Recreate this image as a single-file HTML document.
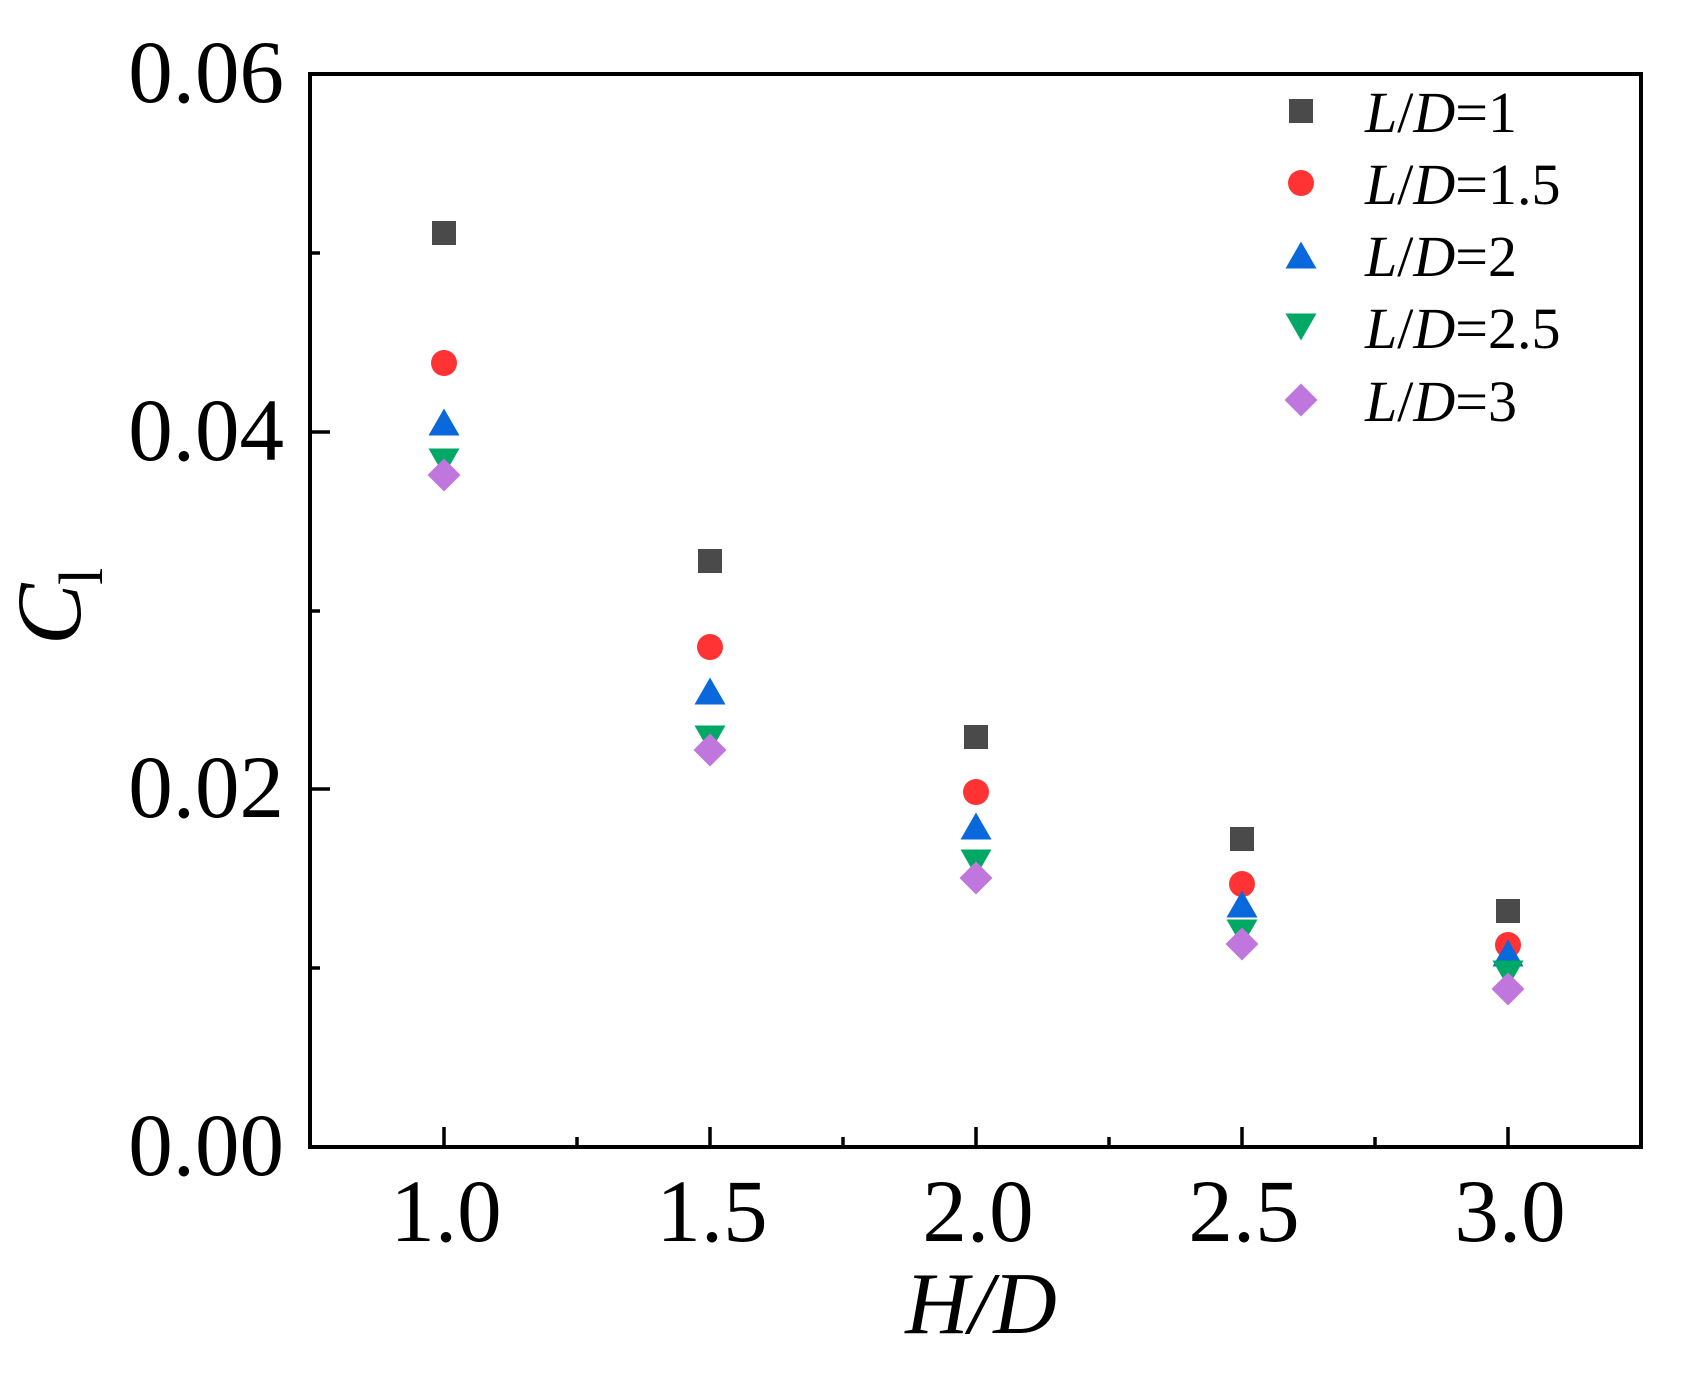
<!DOCTYPE html>
<html><head><meta charset="utf-8"><style>
html,body{margin:0;padding:0;background:#fff;}
svg{display:block;}
text{font-family:"Liberation Serif",serif;fill:#000;}
</style></head><body>
<svg width="1688" height="1373" viewBox="0 0 1688 1373" xmlns="http://www.w3.org/2000/svg">
<defs>
<g id="sq"><rect x="-12" y="-12" width="24" height="24" fill="#4a4a4a"/></g>
<g id="ci"><circle r="13" fill="#ff3333"/></g>
<g id="tu"><polygon points="0,-13.5 15.5,13.5 -15.5,13.5" fill="#0a68dd"/></g>
<g id="td"><polygon points="0,13.5 15.5,-13.5 -15.5,-13.5" fill="#00a865"/></g>
<g id="di"><polygon points="0,-16.5 16.5,0 0,16.5 -16.5,0" fill="#c077dd"/></g>
</defs>
<!-- frame -->
<rect x="310" y="74" width="1331" height="1073" fill="none" stroke="#000" stroke-width="4"/>
<!-- y ticks inward -->
<g stroke="#000" stroke-width="3.5">
<line x1="310" y1="432" x2="330" y2="432"/>
<line x1="310" y1="789" x2="330" y2="789"/>
<line x1="310" y1="253" x2="320" y2="253"/>
<line x1="310" y1="611" x2="320" y2="611"/>
<line x1="310" y1="968" x2="320" y2="968"/>
<!-- x ticks -->
<line x1="444" y1="1147" x2="444" y2="1127"/>
<line x1="710" y1="1147" x2="710" y2="1127"/>
<line x1="976" y1="1147" x2="976" y2="1127"/>
<line x1="1242" y1="1147" x2="1242" y2="1127"/>
<line x1="1508" y1="1147" x2="1508" y2="1127"/>
<line x1="577" y1="1147" x2="577" y2="1137"/>
<line x1="843" y1="1147" x2="843" y2="1137"/>
<line x1="1109" y1="1147" x2="1109" y2="1137"/>
<line x1="1375" y1="1147" x2="1375" y2="1137"/>
</g>
<!-- y labels -->
<g font-size="89" text-anchor="end">
<text x="284" y="102">0.06</text>
<text x="284" y="460">0.04</text>
<text x="284" y="817">0.02</text>
<text x="284" y="1175">0.00</text>
</g>
<!-- x labels -->
<g font-size="89" text-anchor="middle">
<text x="446" y="1241">1.0</text>
<text x="712" y="1241">1.5</text>
<text x="978" y="1241">2.0</text>
<text x="1244" y="1241">2.5</text>
<text x="1510" y="1241">3.0</text>
</g>
<text x="981" y="1333" font-size="88" font-style="italic" text-anchor="middle">H/D</text>
<g transform="translate(80,645) rotate(-90)">
<text x="0" y="0" font-size="92" font-style="italic">C</text>
<text x="60" y="22" font-size="62">l</text>
</g>
<!-- data -->
<use href="#sq" x="444" y="233"/><use href="#sq" x="710" y="561"/><use href="#sq" x="976" y="737"/><use href="#sq" x="1242" y="839"/><use href="#sq" x="1508" y="911"/>
<use href="#ci" x="444" y="363"/><use href="#ci" x="710" y="647"/><use href="#ci" x="976" y="792"/><use href="#ci" x="1242" y="884"/><use href="#ci" x="1508" y="945"/>
<use href="#tu" x="444" y="422"/><use href="#tu" x="710" y="691"/><use href="#tu" x="976" y="826"/><use href="#tu" x="1242" y="904"/><use href="#tu" x="1508" y="953"/>
<use href="#td" x="444" y="462"/><use href="#td" x="710" y="739"/><use href="#td" x="976" y="863"/><use href="#td" x="1242" y="933"/><use href="#td" x="1508" y="974"/>
<use href="#di" x="444" y="475"/><use href="#di" x="710" y="750"/><use href="#di" x="976" y="878"/><use href="#di" x="1242" y="944"/><use href="#di" x="1508" y="989"/>
<!-- legend -->
<use href="#sq" x="1301" y="111"/>
<use href="#ci" x="1301" y="183"/>
<use href="#tu" x="1301" y="255"/>
<use href="#td" x="1301" y="327"/>
<use href="#di" x="1301" y="400"/>
<g font-size="58">
<text x="1365" y="132"><tspan font-style="italic">L</tspan>/<tspan font-style="italic">D</tspan>=1</text>
<text x="1365" y="204"><tspan font-style="italic">L</tspan>/<tspan font-style="italic">D</tspan>=1.5</text>
<text x="1365" y="276"><tspan font-style="italic">L</tspan>/<tspan font-style="italic">D</tspan>=2</text>
<text x="1365" y="348"><tspan font-style="italic">L</tspan>/<tspan font-style="italic">D</tspan>=2.5</text>
<text x="1365" y="421"><tspan font-style="italic">L</tspan>/<tspan font-style="italic">D</tspan>=3</text>
</g>
</svg>
</body></html>
